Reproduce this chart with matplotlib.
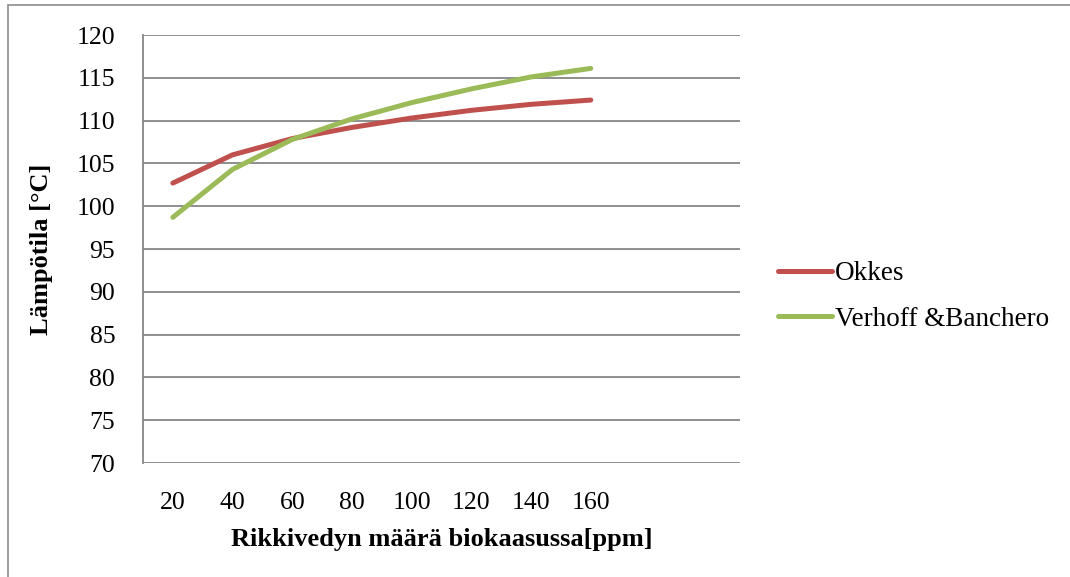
import numpy as np
import matplotlib.pyplot as plt
from matplotlib.patches import Rectangle

# Data
ppm = ["20", "40", "60", "80", "100", "120", "140", "160", "", ""]
okkes = [102.7, 106.0, 107.9, 109.2, 110.3, 111.2, 111.9, 112.4]
verhoff = [98.7, 104.3, 107.8, 110.2, 112.1, 113.7, 115.1, 116.1]

plt.rcParams['font.family'] = ['Liberation Serif', 'DejaVu Serif']

fig = plt.figure(figsize=(10.7, 5.77), dpi=100)
ax = fig.add_axes([143 / 1070, 1 - 463 / 577, 597 / 1070, 428 / 577])

# outer chart border
fig.patches.append(Rectangle((8 / 1070, -0.1), 1.2, 1 - 5 / 577 + 0.1,
                             transform=fig.transFigure, fill=False,
                             edgecolor='#8c8c8c', linewidth=1.2))

x = np.arange(len(okkes))
ax.plot(x, okkes, color='#C0504D', linewidth=3.6, solid_capstyle='round',
        label='Okkes')
ax.plot(x, verhoff, color='#9BBB59', linewidth=3.6, solid_capstyle='round',
        label='Verhoff &Banchero')

ax.set_xlim(-0.5, len(ppm) - 0.5)
ax.set_ylim(70, 120)
ax.set_yticks(np.arange(70, 121, 5))
ax.set_xticks(np.arange(len(ppm)))
ax.set_xticklabels(ppm)
ax.yaxis.grid(True, color='#868686', linewidth=1.3)
ax.set_axisbelow(True)
for s in ['top', 'right', 'bottom']:
    ax.spines[s].set_visible(False)
ax.spines['left'].set_color('#868686')
ax.spines['left'].set_linewidth(1.3)
ax.tick_params(axis='both', length=0, labelsize=18.5)
ax.tick_params(axis='y', pad=20)
ax.tick_params(axis='x', pad=21)

ax.set_xlabel('Rikkivedyn määrä biokaasussa[ppm]', fontsize=19,
              fontweight='bold', labelpad=10)
ax.set_ylabel('Lämpötila [°C]', fontsize=19, fontweight='bold', labelpad=17)

ax.legend(loc='center left', bbox_to_anchor=(1.064, 0.389), frameon=False,
          fontsize=19.5, handlelength=2.0, handletextpad=0.1,
          labelspacing=0.75, borderpad=0, borderaxespad=0)

fig.savefig('out.png', dpi=100)
